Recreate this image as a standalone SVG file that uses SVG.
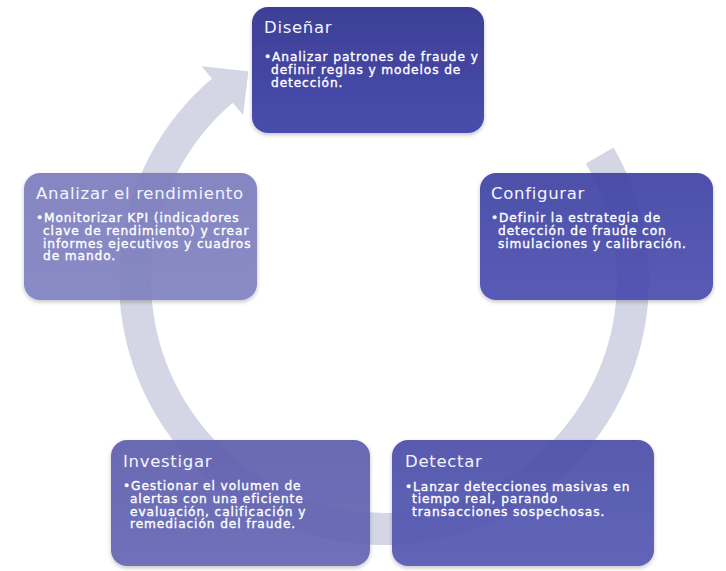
<svg xmlns="http://www.w3.org/2000/svg" width="726" height="571" viewBox="0 0 726 571">
  <defs>
    <linearGradient id="g1" x1="0" y1="0" x2="0" y2="1">
      <stop offset="0" stop-color="#2c2f8d"/>
      <stop offset="1" stop-color="#3a3ea6"/>
    </linearGradient>
    <linearGradient id="g2" x1="0" y1="0" x2="0" y2="1">
      <stop offset="0" stop-color="#3f42a2"/>
      <stop offset="1" stop-color="#4a4db0"/>
    </linearGradient>
    <linearGradient id="g3" x1="0" y1="0" x2="0" y2="1">
      <stop offset="0" stop-color="#4c4ea8"/>
      <stop offset="1" stop-color="#5457b3"/>
    </linearGradient>
    <linearGradient id="g4" x1="0" y1="0" x2="0" y2="1">
      <stop offset="0" stop-color="#5d5eac"/>
      <stop offset="1" stop-color="#6365b4"/>
    </linearGradient>
    <linearGradient id="g5" x1="0" y1="0" x2="0" y2="1">
      <stop offset="0" stop-color="#7b7cbc"/>
      <stop offset="1" stop-color="#8082c2"/>
    </linearGradient>
    <filter id="sh" x="-10%" y="-10%" width="120%" height="125%">
      <feDropShadow dx="0" dy="2" stdDeviation="2" flood-color="#000" flood-opacity="0.25"/>
    </filter>
  </defs>
  <style>
    .box { stroke: none; filter: url(#sh); opacity: 0.92; }
    .title { font-family: "DejaVu Sans", Verdana, sans-serif; font-size: 16.5px; letter-spacing: 0.7px; fill: #f4f4ff; }
    .body { font-family: "DejaVu Sans", Verdana, sans-serif; font-size: 12.2px; letter-spacing: 0.9px; fill: #ffffff; stroke: #ffffff; stroke-width: 0.35px; }
    .ring { fill: #d4d6e5; }
  </style>
  <rect width="726" height="571" fill="#ffffff"/>

  <g id="connectors">
    <path class="ring" d="M 613.5 147.5 A 265 265 0 1 1 211.9 78.5 L 201.5 66.3 L 248.4 71.2 L 243.1 115 L 232.7 102.8 A 233 233 0 1 0 585.8 163.5 Z"/>
  </g>

  <g id="node-disenar">
    <rect class="box" x="252" y="7" width="232" height="126" rx="16" fill="url(#g1)"/>
    <text class="title" x="264" y="33">Diseñar</text>
    <text class="body" y="61"><tspan x="264">•Analizar patrones de fraude y</tspan><tspan x="271" dy="12.8">definir reglas y modelos de</tspan><tspan x="271" dy="12.8">detección.</tspan></text>
  </g>

  <g id="node-configurar">
    <rect class="box" x="480" y="173" width="233" height="127" rx="16" fill="url(#g2)"/>
    <text class="title" x="491" y="198.5">Configurar</text>
    <text class="body" y="222"><tspan x="491">•Definir la estrategia de</tspan><tspan x="498" dy="12.8">detección de fraude con</tspan><tspan x="498" dy="12.8">simulaciones y calibración.</tspan></text>
  </g>

  <g id="node-detectar">
    <rect class="box" x="392" y="440" width="262" height="126" rx="16" fill="url(#g3)"/>
    <text class="title" x="405" y="466.5">Detectar</text>
    <text class="body" y="490.5"><tspan x="405">•Lanzar detecciones masivas en</tspan><tspan x="412" dy="12.8">tiempo real, parando</tspan><tspan x="412" dy="12.8">transacciones sospechosas.</tspan></text>
  </g>

  <g id="node-investigar">
    <rect class="box" x="111" y="440" width="259" height="126" rx="16" fill="url(#g4)"/>
    <text class="title" x="123" y="466.5">Investigar</text>
    <text class="body" y="490"><tspan x="123">•Gestionar el volumen de</tspan><tspan x="130" dy="12.8">alertas con una eficiente</tspan><tspan x="130" dy="12.8">evaluación, calificación y</tspan><tspan x="130" dy="12.8">remediación del fraude.</tspan></text>
  </g>

  <g id="node-analizar">
    <rect class="box" x="24" y="173" width="233" height="127" rx="16" fill="url(#g5)"/>
    <text class="title" x="36" y="199">Analizar el rendimiento</text>
    <text class="body" y="222"><tspan x="36">•Monitorizar KPI (indicadores</tspan><tspan x="43" dy="12.8">clave de rendimiento) y crear</tspan><tspan x="43" dy="12.8">informes ejecutivos y cuadros</tspan><tspan x="43" dy="12.8">de mando.</tspan></text>
  </g>
</svg>
